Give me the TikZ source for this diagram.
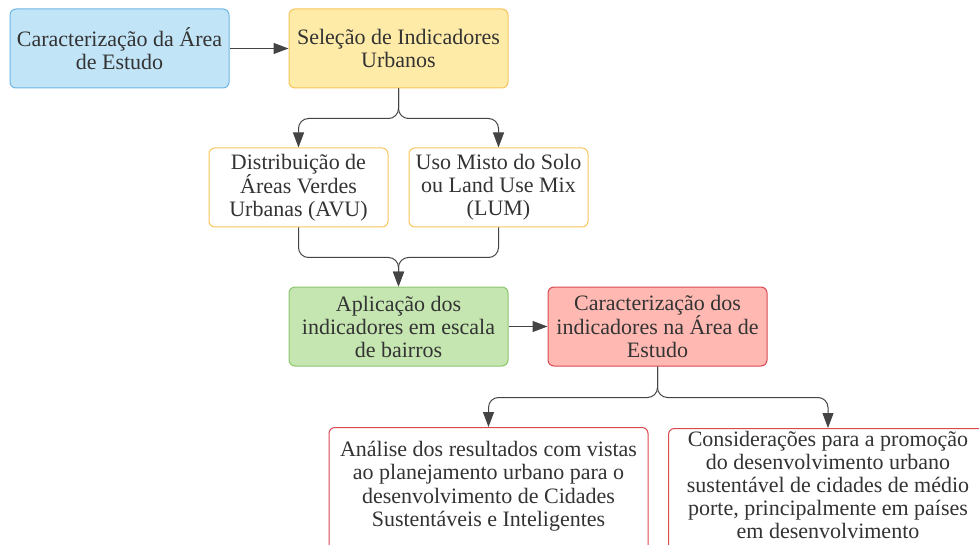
\documentclass[tikz,border=0pt]{standalone}
\usepackage{fontspec}
\setmainfont{Liberation Serif}
\usetikzlibrary{arrows.meta}
\definecolor{txt}{HTML}{333333}
\definecolor{linec}{HTML}{444444}
\definecolor{bluef}{HTML}{C2E4F7}
\definecolor{blued}{HTML}{6DB7E5}
\definecolor{yelf}{HTML}{FFEBA8}
\definecolor{yeld}{HTML}{F7C65B}
\definecolor{greenf}{HTML}{C5E6B1}
\definecolor{greend}{HTML}{8CC76E}
\definecolor{redf}{HTML}{FFB9B2}
\definecolor{redd}{HTML}{D94951}
\begin{document}
\begin{tikzpicture}[x=1pt,y=-1pt,
  font=\fontsize{22}{23}\selectfont,
  box/.style={draw, rounded corners=6pt, line width=1pt, align=center, text=txt, inner sep=0pt},
  small/.style={minimum width=219pt, minimum height=79pt},
  mid/.style={minimum width=179pt, minimum height=79pt},
  big/.style={minimum width=319pt, minimum height=135pt, anchor=north},
  txtn/.style={align=center, text=txt, inner sep=0pt, anchor=north, font=\fontsize{22}{23.4}\selectfont},
  conn/.style={draw=linec, line width=1pt, rounded corners=10pt, -{Triangle[length=15pt,width=11pt]}}]
\useasboundingbox (0,0) rectangle (979,545);
\clip (0,0) rectangle (979,545);
\fill[white] (0,0) rectangle (979,545);
\node[box, small, fill=bluef, draw=blued] (b1) at (119.5,48.5) {Caracterização da Área\\de Estudo};
\node[box, small, fill=yelf, draw=yeld] (b2) at (398.5,48.5) {Seleção de Indicadores\\Urbanos};
\node[box, mid, fill=white, draw=yeld] (b3) at (298.5,187.5) {Distribuição de\\Áreas Verdes\\Urbanas (AVU)};
\node[box, mid, fill=white, draw=yeld] (b4) at (498.5,187.5) {Uso Misto do Solo\\ou Land Use Mix\\(LUM)};
\node[box, small, fill=greenf, draw=greend] (b5) at (398.5,326.5) {Aplicação dos\\indicadores em escala\\de bairros};
\node[box, small, fill=redf, draw=redd] (b6) at (657.5,326.5) {Caracterização dos\\indicadores na Área de\\Estudo};
\node[box, big, fill=white, draw=redd] (b7) at (488.5,427) {};
\node[box, big, fill=white, draw=redd] (b8) at (828,428) {};
\node[txtn] (t7) at (488.5,441) {Análise dos resultados com vistas\\ao planejamento urbano para o\\desenvolvimento de Cidades\\Sustentáveis e Inteligentes};
\node[txtn, font=\fontsize{22}{23}\selectfont] (t8) at (828,431.5) {Considerações para a promoção\\do desenvolvimento urbano\\sustentável de cidades de médio\\porte, principalmente em países\\em desenvolvimento};
\draw[conn] (b1.east) -- (b2.west);
\draw[conn] (b5.east) -- (b6.west);
\draw[conn] (b2.south) -- ++(0,30) -| (b3.north);
\draw[conn] (b2.south) -- ++(0,30) -| (b4.north);
\draw[conn] (b3.south) -- ++(0,30) -| (b5.north);
\draw[conn] (b4.south) -- ++(0,30) -| (b5.north);
\draw[conn] (b6.south) -- ++(0,31) -| (b7.north);
\draw[conn] (b6.south) -- ++(0,31) -| (b8.north);
\end{tikzpicture}
\end{document}
